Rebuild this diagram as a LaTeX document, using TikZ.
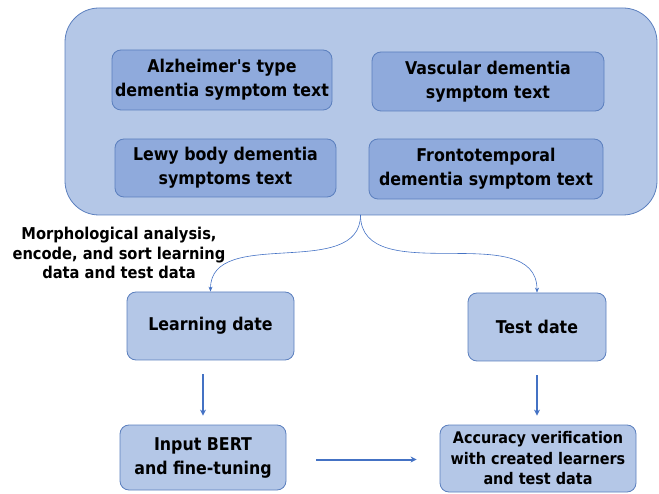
\documentclass[tikz,border=0pt]{standalone}
\usepackage{fontspec}
\setmainfont{DejaVu Sans Condensed}[Ligatures=TeXOff]
\usetikzlibrary{arrows.meta}
\definecolor{lightfill}{HTML}{B4C7E7}
\definecolor{darkfill}{HTML}{8FAADC}
\definecolor{edgeblue}{HTML}{5B7FBE}
\definecolor{arrowblue}{HTML}{4472C4}
\begin{document}
\begin{tikzpicture}[x=1pt,y=-1pt,
  every node/.style={font=\fontsize{17.6}{24}\selectfont\bfseries, align=center, inner sep=0pt},
  labelfont/.style={font=\fontsize{16.3}{19.5}\selectfont\bfseries},
  smallfont/.style={font=\fontsize{16}{20.5}\selectfont\bfseries},
  outerbox/.style={draw=edgeblue, fill=lightfill, rounded corners=34pt, line width=0.8pt},
  innerbox/.style={draw=edgeblue, fill=darkfill, rounded corners=9pt, line width=0.8pt},
  stepbox/.style={draw=edgeblue, fill=lightfill, rounded corners=9pt, line width=0.8pt},
  thinarr/.style={draw=arrowblue, line width=0.6pt, -{Stealth[length=5pt,width=4pt]}},
  thickarr/.style={draw=arrowblue, line width=2pt, -{Stealth[length=6pt,width=6pt]}}]
\useasboundingbox (0,0) rectangle (659,494);
\node[outerbox, minimum width=592pt, minimum height=207pt] (big) at (361,111.5) {};
\node[innerbox, minimum width=220pt, minimum height=60pt] (alz) at (222,80) {Alzheimer's type\\dementia symptom text};
\node[innerbox, minimum width=232pt, minimum height=59pt] (vas) at (488,81.5) {Vascular dementia\\symptom text};
\node[innerbox, minimum width=221pt, minimum height=58pt] (lewy) at (225.5,168) {Lewy body dementia\\symptoms text};
\node[innerbox, minimum width=234pt, minimum height=60pt] (fro) at (486,169) {Frontotemporal\\dementia symptom text};
\node[labelfont] (lab) at (119,253) {Morphological analysis,\\encode, and sort learning\\data and test data};
\node[stepbox, minimum width=167pt, minimum height=68pt] (learn) at (210.5,326) {Learning date};
\node[stepbox, minimum width=138pt, minimum height=68pt] (test) at (537,327) {Test date};
\node[stepbox, minimum width=166pt, minimum height=65pt] (bert) at (203,457.5) {Input BERT\\and fine-tuning};
\node[stepbox, smallfont, minimum width=196pt, minimum height=67pt] (acc) at (538,458.5) {Accuracy verification\\with created learners\\and test data};
\coordinate (split) at (360.5,215);
\draw[thinarr] (split) to[out=-90,in=90] (learn.north);
\draw[thinarr] (split) to[out=-90,in=90] (test.north);
\draw[thickarr, shorten <=14pt, shorten >=9pt] (learn.south -| bert.north) -- (bert.north);
\draw[thickarr, shorten <=14pt, shorten >=9pt] (test.south) -- (test.south |- acc.north);
\coordinate (hstart) at ([yshift=-2pt]bert.east);
\draw[thickarr, shorten <=30pt, shorten >=23pt] (hstart) -- (hstart -| acc.west);
\end{tikzpicture}
\end{document}
